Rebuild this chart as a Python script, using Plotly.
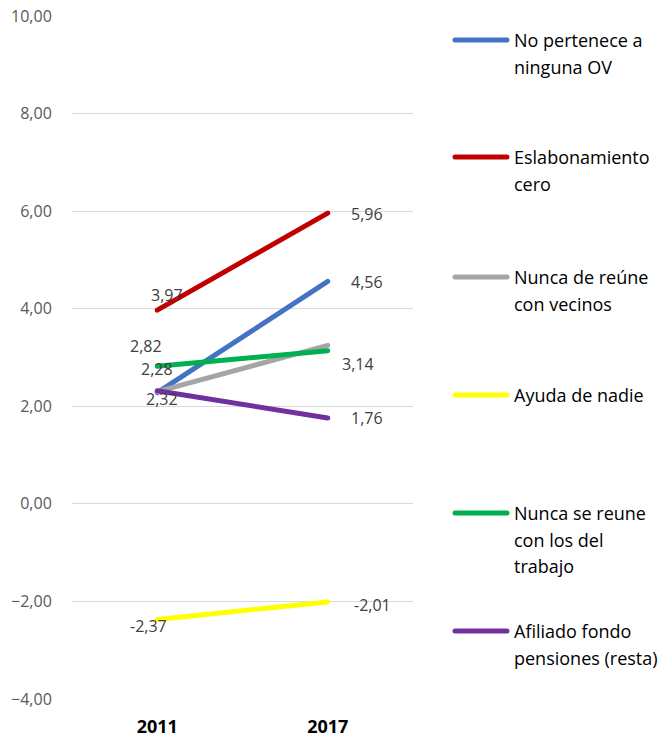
import plotly.graph_objects as go

years = ["2011", "2017"]
series_names = [
    "No pertenece a<br>ninguna OV",
    "Eslabonamiento<br>cero",
    "Nunca de reúne<br>con vecinos",
    "Ayuda de nadie",
    "Nunca se reune<br>con los del<br>trabajo",
    "Afiliado fondo<br>pensiones (resta)",
]
blue_vals = [2.28, 4.56]
red_vals = [3.97, 5.96]
gray_vals = [2.30, 3.25]
yellow_vals = [-2.37, -2.01]
green_vals = [2.82, 3.14]
purple_vals = [2.32, 1.76]
series_values = [blue_vals, red_vals, gray_vals, yellow_vals, green_vals, purple_vals]
colors = ["#4472C4", "#C00000", "#A5A5A5", "#FFFF00", "#00B050", "#7030A0"]
# which points carry a data label
show_labels = [[True, True], [True, True], [False, False], [True, True], [True, True], [True, True]]
# label pixel offsets (dx right, dy down) per series/point
label_offsets = [
    [(0, -24), (39, 1)],
    [(10, -15), (39, 1)],
    [(0, 0), (0, 0)],
    [(-9, 7), (45, 3)],
    [(-11, -20), (30, 13)],
    [(5, 8), (39, 0)],
]
yticks = [-4, -2, 0, 2, 4, 6, 8, 10]

fig = go.Figure()
for name, vals, col in zip(series_names, series_values, colors):
    fig.add_trace(go.Scatter(x=years, y=vals, mode="lines", name=name,
                             line=dict(color=col, width=5), showlegend=False))

def fmt(v):
    return f"{v:.2f}".replace(".", ",")

for vals, shows, offs in zip(series_values, show_labels, label_offsets):
    for i, (v, s, (dx, dy)) in enumerate(zip(vals, shows, offs)):
        if s:
            fig.add_annotation(x=i, y=v, xref="x", yref="y", text=fmt(v), showarrow=False,
                               xshift=dx, yshift=-dy,
                               font=dict(family="Open Sans", size=16, color="#404040"))

FW, FH = 667, 738
L, R, T, B = 72, FW - 413, 16, FH - 699
W, H = FW - L - R, FH - T - B
def px_x(p): return (p - L) / W
def px_y(p): return (FH - B - p) / H
legend_y = [40, 157, 277, 395, 513, 631]
for name, col, ly in zip(series_names, colors, legend_y):
    fig.add_shape(type="line", xref="paper", yref="paper",
                  x0=px_x(455), x1=px_x(507), y0=px_y(ly), y1=px_y(ly),
                  line=dict(color=col, width=5))
    for i, part in enumerate(name.split("<br>")):
        fig.add_annotation(xref="paper", yref="paper", x=px_x(512), y=px_y(ly + 26.5 * i),
                           xanchor="left", yanchor="middle", text=part, showarrow=False,
                           font=dict(family="Open Sans", size=18, color="#000000"))

fig.update_layout(
    width=FW, height=FH,
    margin=dict(l=L, r=R, t=T, b=B),
    paper_bgcolor="white", plot_bgcolor="white",
    separators=",.",
    showlegend=False,
    xaxis=dict(type="category", range=[-0.5, 1.5], showgrid=False, showline=False,
               zeroline=False, ticks="outside", ticklen=11, tickcolor="rgba(0,0,0,0)",
               automargin=False, ticklabeloverflow="allow",
               tickfont=dict(family="Open Sans", size=18, color="#000000", weight="bold")),
    yaxis=dict(range=[-4, 10], tickvals=yticks, tickformat=".2f", showgrid=True,
               gridcolor="#D9D9D9", gridwidth=1, zeroline=True, zerolinecolor="#D9D9D9",
               zerolinewidth=1, showline=False, ticks="outside", ticklen=16,
               tickcolor="rgba(0,0,0,0)", automargin=False, ticklabeloverflow="allow",
               tickfont=dict(family="Open Sans", size=16, color="#595959")),
)
post = (
    "document.body.style.margin='0';"
    "document.querySelectorAll('.scatterlayer .js-line, .shapelayer path')"
    ".forEach(function(p){p.style.strokeLinecap='round';});"
)
fig.write_html("out.html", post_script=post, config={"displayModeBar": False})
